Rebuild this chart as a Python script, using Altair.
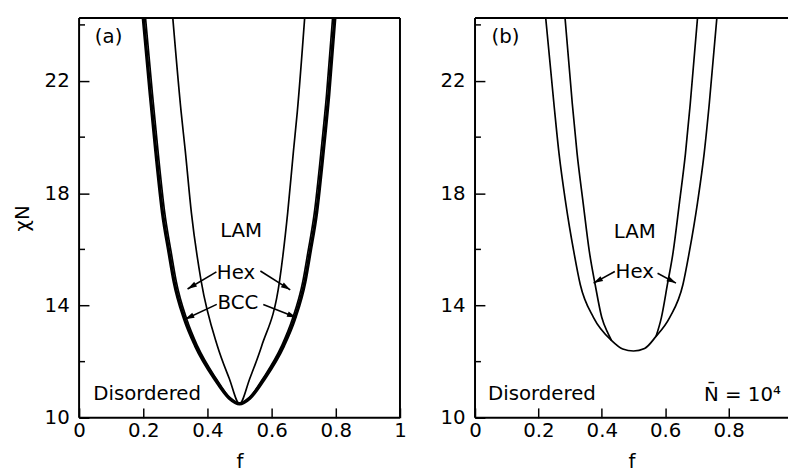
import math
import altair as alt
import pandas as pd

# ---------------- data ----------------
# Panel (a): mean-field phase diagram
a_odt_f = [0.200, 0.222, 0.239, 0.260, 0.280, 0.296, 0.329, 0.363, 0.422, 0.468, 0.500,
           0.532, 0.578, 0.637, 0.671, 0.704, 0.720, 0.740, 0.761, 0.778, 0.797]
a_odt_chi = [24.25, 21.5, 19.5, 17.3, 15.9, 14.85, 13.5, 12.56, 11.4, 10.7, 10.5,
             10.7, 11.4, 12.56, 13.5, 14.85, 15.9, 17.3, 19.5, 21.5, 24.25]
a_bcchex_f = [0.207, 0.229, 0.246, 0.267, 0.287, 0.303, 0.336, 0.369, 0.427, 0.471, 0.500,
              0.529, 0.573, 0.631, 0.664, 0.697, 0.713, 0.733, 0.754, 0.771, 0.790]
a_bcchex_chi = [24.25, 21.5, 19.5, 17.3, 15.9, 14.85, 13.5, 12.56, 11.4, 10.7, 10.5,
                10.7, 11.4, 12.56, 13.5, 14.85, 15.9, 17.3, 19.5, 21.5, 24.25]
a_hexlam_f = [0.292, 0.318, 0.331, 0.350, 0.380, 0.431, 0.468, 0.500,
              0.532, 0.569, 0.625, 0.650, 0.668, 0.680, 0.703]
a_hexlam_chi = [24.25, 20.9, 19.5, 17.3, 14.9, 12.56, 11.4, 10.5,
                11.4, 12.56, 14.9, 17.3, 19.5, 20.9, 24.25]

# Panel (b): fluctuation corrected, N = 10^4
b_odt_f = [0.223, 0.249, 0.265, 0.286, 0.312, 0.332, 0.374, 0.431, 0.466, 0.500,
           0.535, 0.571, 0.614, 0.656, 0.676, 0.702, 0.723, 0.739, 0.763]
b_odt_chi = [24.25, 21.18, 19.42, 17.67, 15.9, 14.75, 13.57, 12.75, 12.45, 12.38,
             12.47, 12.9, 13.57, 14.75, 15.9, 17.67, 19.42, 21.18, 24.25]
b_hexlam_left_f = [0.284, 0.307, 0.322, 0.341, 0.361, 0.379, 0.400, 0.420, 0.431]
b_hexlam_left_chi = [24.25, 21.18, 19.42, 17.67, 15.9, 14.75, 13.57, 13.0, 12.75]
b_hexlam_right_f = [0.571, 0.588, 0.607, 0.625, 0.645, 0.664, 0.679, 0.702]
b_hexlam_right_chi = [12.9, 13.57, 14.75, 15.9, 17.67, 19.42, 21.18, 24.25]

# annotations (anchor positions in data units)
a_labels = ["(a)", "LAM", "Hex", "BCC", "Disordered"]
a_label_f = [0.092, 0.505, 0.489, 0.495, 0.212]
a_label_chi = [23.58, 16.65, 15.17, 14.10, 10.84]
a_arrow_f0 = [0.428, 0.565, 0.429, 0.574]
a_arrow_c0 = [15.20, 15.23, 14.04, 14.04]
a_arrow_f1 = [0.338, 0.658, 0.330, 0.677]
a_arrow_c1 = [14.59, 14.56, 13.51, 13.57]

b_labels = ["(b)", "LAM", "Hex", "Disordered"]
b_label_f = [0.096, 0.504, 0.504, 0.211]
b_label_chi = [23.56, 16.61, 15.18, 10.86]
b_arrow_f0 = [0.441, 0.576]
b_arrow_c0 = [15.21, 15.15]
b_arrow_f1 = [0.374, 0.634]
b_arrow_c1 = [14.80, 14.80]
b_note = "N\u0304 = 10\u2074"
b_note_f = 0.965
b_note_chi = 10.61

x_ticks_a = [0, 0.2, 0.4, 0.6, 0.8, 1]
x_ticks_b = [0, 0.2, 0.4, 0.6, 0.8]
y_major = [10, 14, 18, 22]
y_minor = [12, 16, 20, 24]

YMIN, YMAX = 10, 24.25
H = 405
FONT = "DejaVu Sans"
ARROW = "M0,0L0.6,2L-0.6,2Z"


def panel(curves, thick, labels, lf, lc, af0, ac0, af1, ac1, xmax, width, xticks,
          ytitle, sides, note=None):
    xs = alt.Scale(domain=[0, xmax], nice=False, zero=False)
    ys = alt.Scale(domain=[YMIN, YMAX], nice=False, zero=False)
    xaxis = alt.Axis(values=xticks, format="~g", tickSize=10, offset=-10, domain=False,
                     grid=False, labelPadding=3, labelFlush=False, labelOverlap=False,
                     title="f", titlePadding=11, tickWidth=1.5)
    yaxis = alt.Axis(values=y_major, tickSize=10, offset=-10, domain=False, grid=False,
                     labelPadding=10, labelFlush=False, labelOverlap=False,
                     title=ytitle, titlePadding=12, tickWidth=1.5)

    def X(field):
        return alt.X(f"{field}:Q", scale=xs, axis=xaxis)

    def Y(field):
        return alt.Y(f"{field}:Q", scale=ys, axis=yaxis)

    layers = []
    rows = []
    for name, (fs, cs) in curves.items():
        for f, c in zip(fs, cs):
            rows.append({"f": f, "chi": c, "curve": name})
    df = pd.DataFrame(rows)
    thin_df = df[~df["curve"].isin(thick)]
    thick_df = df[df["curve"].isin(thick)]
    layers.append(alt.Chart(thin_df).mark_line(interpolate="monotone", clip=True, color="black",
                                               strokeWidth=1.7)
                  .encode(x=X("f"), y=Y("chi"), detail="curve:N"))
    if len(thick_df):
        layers.append(alt.Chart(thick_df).mark_line(interpolate="monotone", clip=True,
                                                    color="black", strokeWidth=3.4)
                      .encode(x=X("f"), y=Y("chi"), detail="curve:N"))

    # minor y ticks (inward)
    layers.append(alt.Chart(pd.DataFrame({"chi": y_minor})).mark_rule(color="black", strokeWidth=1.5)
                  .encode(y=Y("chi"), x=alt.value(0), x2=alt.value(6)))

    # text labels
    tdf = pd.DataFrame({"f": lf, "chi": lc, "label": labels})
    layers.append(alt.Chart(tdf).mark_text(font=FONT, fontSize=20, color="black",
                                           align="center", baseline="middle")
                  .encode(x=X("f"), y=Y("chi"), text="label:N"))

    # arrows
    sx = width / xmax
    sy = H / (YMAX - YMIN)
    angs = []
    for f0, c0, f1, c1 in zip(af0, ac0, af1, ac1):
        dx = (f1 - f0) * sx
        dy = -(c1 - c0) * sy
        angs.append(math.degrees(math.atan2(dx, -dy)) % 360)
    adf = pd.DataFrame({"f0": af0, "c0": ac0, "f1": af1, "c1": ac1, "ang": angs})
    layers.append(alt.Chart(adf).mark_rule(color="black", strokeWidth=1.6)
                  .encode(x=X("f0"), y=Y("c0"), x2="f1:Q", y2="c1:Q"))
    layers.append(alt.Chart(adf).mark_point(shape=ARROW, filled=True, size=90, color="black",
                                            opacity=1)
                  .encode(x=X("f1"), y=Y("c1"), angle=alt.Angle("ang:Q", scale=None)))

    if note is not None:
        ndf = pd.DataFrame({"f": [note[1]], "chi": [note[2]], "label": [note[0]]})
        layers.append(alt.Chart(ndf).mark_text(font=FONT, fontSize=20, color="black",
                                               align="right", baseline="alphabetic")
                      .encode(x=X("f"), y=Y("chi"), text="label:N"))

    # frame
    one = pd.DataFrame({"k": [0]})
    frame = {
        "left": dict(x=alt.value(0), y=alt.value(0), y2=alt.value(H)),
        "right": dict(x=alt.value(width), y=alt.value(0), y2=alt.value(H)),
        "top": dict(y=alt.value(0), x=alt.value(0), x2=alt.value(width)),
        "bottom": dict(y=alt.value(H), x=alt.value(0), x2=alt.value(width)),
    }
    for s in sides:
        layers.append(alt.Chart(one).mark_rule(color="black", strokeWidth=2).encode(**frame[s]))

    return alt.layer(*layers).properties(width=width, height=H)


pa = panel({"odt": (a_odt_f, a_odt_chi), "bcchex": (a_bcchex_f, a_bcchex_chi),
            "hexlam": (a_hexlam_f, a_hexlam_chi)}, ["odt"],
           a_labels, a_label_f, a_label_chi, a_arrow_f0, a_arrow_c0, a_arrow_f1, a_arrow_c1,
           1.0, 325, x_ticks_a, "\u03c7N", ["left", "right", "top", "bottom"])

pb = panel({"odt": (b_odt_f, b_odt_chi), "hexlam_l": (b_hexlam_left_f, b_hexlam_left_chi),
            "hexlam_r": (b_hexlam_right_f, b_hexlam_right_chi)}, [],
           b_labels, b_label_f, b_label_chi, b_arrow_f0, b_arrow_c0, b_arrow_f1, b_arrow_c1,
           0.9875, 317, x_ticks_b, None, ["left", "top", "bottom"],
           note=(b_note, b_note_f, b_note_chi))

chart = (alt.hconcat(pa, pb, spacing=76, bounds="flush")
         .properties(padding={"left": 4, "top": 6, "right": 0, "bottom": 5})
         .configure_view(stroke=None)
         .configure_axis(labelFont=FONT, labelFontSize=20, labelColor="black",
                         titleFont=FONT, titleFontSize=20, titleFontWeight="normal",
                         titleColor="black", tickColor="black"))

chart.save("out.html", embed_options={"renderer": "svg", "actions": False})
